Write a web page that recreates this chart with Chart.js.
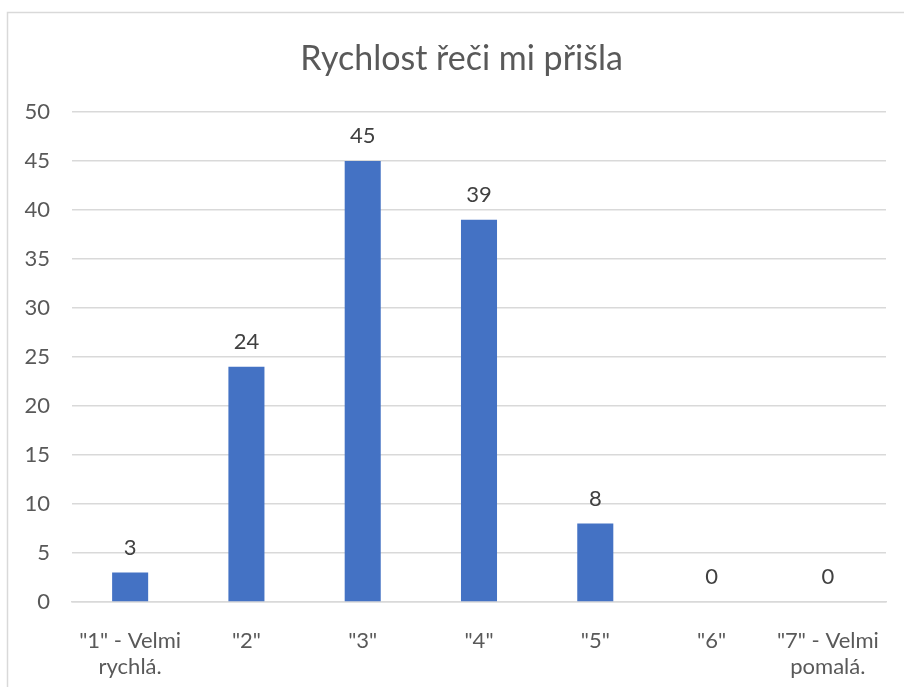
<!DOCTYPE html>
<html>
<head>
<meta charset="utf-8">
<script src="https://cdn.jsdelivr.net/npm/chart.js@4/dist/chart.umd.min.js"></script>
<style>
  html, body { margin: 0; padding: 0; background: #ffffff; }
  #wrap { position: relative; width: 904px; height: 687px; }
  canvas { display: block; }
</style>
</head>
<body>
<div id="wrap"><canvas id="c" width="904" height="687"></canvas></div>
<script>
const titleText = 'Rychlost řeči mi přišla';
const categories = [
  ['"1" - Velmi', 'rychlá.'],
  '"2"',
  '"3"',
  '"4"',
  '"5"',
  '"6"',
  ['"7" - Velmi', 'pomalá.']
];
const counts = [3, 24, 45, 39, 8, 0, 0];
const yTicks = [0, 5, 10, 15, 20, 25, 30, 35, 40, 45, 50];

const FONT = 'Lato, "Open Sans", sans-serif';

// Frame line along the left and top edges of the chart box
const framePlugin = {
  id: 'frame',
  beforeDraw(chart) {
    const ctx = chart.ctx;
    ctx.save();
    ctx.strokeStyle = '#d9d9d9';
    ctx.lineWidth = 1.5;
    ctx.beginPath();
    ctx.moveTo(7.5, chart.height);
    ctx.lineTo(7.5, 12.5);
    ctx.lineTo(chart.width, 12.5);
    ctx.stroke();
    ctx.restore();
  }
};

// Chart heading, centred on the whole framed box
const headingPlugin = {
  id: 'heading',
  afterDraw(chart) {
    const ctx = chart.ctx;
    ctx.save();
    ctx.font = '34px ' + FONT;
    ctx.fillStyle = '#595959';
    ctx.textAlign = 'center';
    ctx.textBaseline = 'middle';
    ctx.fillText(titleText, (7 + chart.chartArea.right + 30) / 2, 59.5);
    ctx.restore();
  }
};

// Value labels above each bar
const valueLabels = {
  id: 'valueLabels',
  afterDatasetsDraw(chart) {
    const ctx = chart.ctx;
    const meta = chart.getDatasetMeta(0);
    const ds = chart.data.datasets[0];
    ctx.save();
    ctx.font = '22px ' + FONT;
    ctx.fillStyle = '#404040';
    ctx.textAlign = 'center';
    ctx.textBaseline = 'middle';
    meta.data.forEach((bar, i) => {
      ctx.fillText(String(ds.data[i]), bar.x, bar.y - 25);
    });
    ctx.restore();
  }
};

new Chart(document.getElementById('c'), {
  type: 'bar',
  data: {
    labels: categories,
    datasets: [{
      data: counts,
      backgroundColor: '#4472c4',
      borderWidth: 0,
      categoryPercentage: 1,
      barPercentage: 0.31
    }]
  },
  options: {
    responsive: false,
    animation: false,
    devicePixelRatio: 1,
    layout: { padding: { left: 0, right: 18, top: 112, bottom: 0 } },
    plugins: {
      legend: { display: false },
      tooltip: { enabled: false },
      title: { display: false }
    },
    scales: {
      x: {
        grid: { display: false },
        border: { display: true, color: '#d9d9d9', width: 1.5 },
        ticks: {
          color: '#595959',
          font: { family: FONT, size: 22, lineHeight: 1.18 },
          padding: 18,
          maxRotation: 0,
          autoSkip: false
        },
        afterFit(scale) { scale.height = 85; }
      },
      y: {
        min: 0,
        max: 50,
        afterBuildTicks(scale) { scale.ticks = yTicks.map(v => ({ value: v })); },
        grid: { color: '#d9d9d9', lineWidth: 1.5, drawTicks: false },
        border: { display: false },
        ticks: {
          color: '#595959',
          font: { family: FONT, size: 22 },
          padding: 22
        },
        afterFit(scale) { scale.width = 72; }
      }
    }
  },
  plugins: [framePlugin, headingPlugin, valueLabels]
});
</script>
</body>
</html>
